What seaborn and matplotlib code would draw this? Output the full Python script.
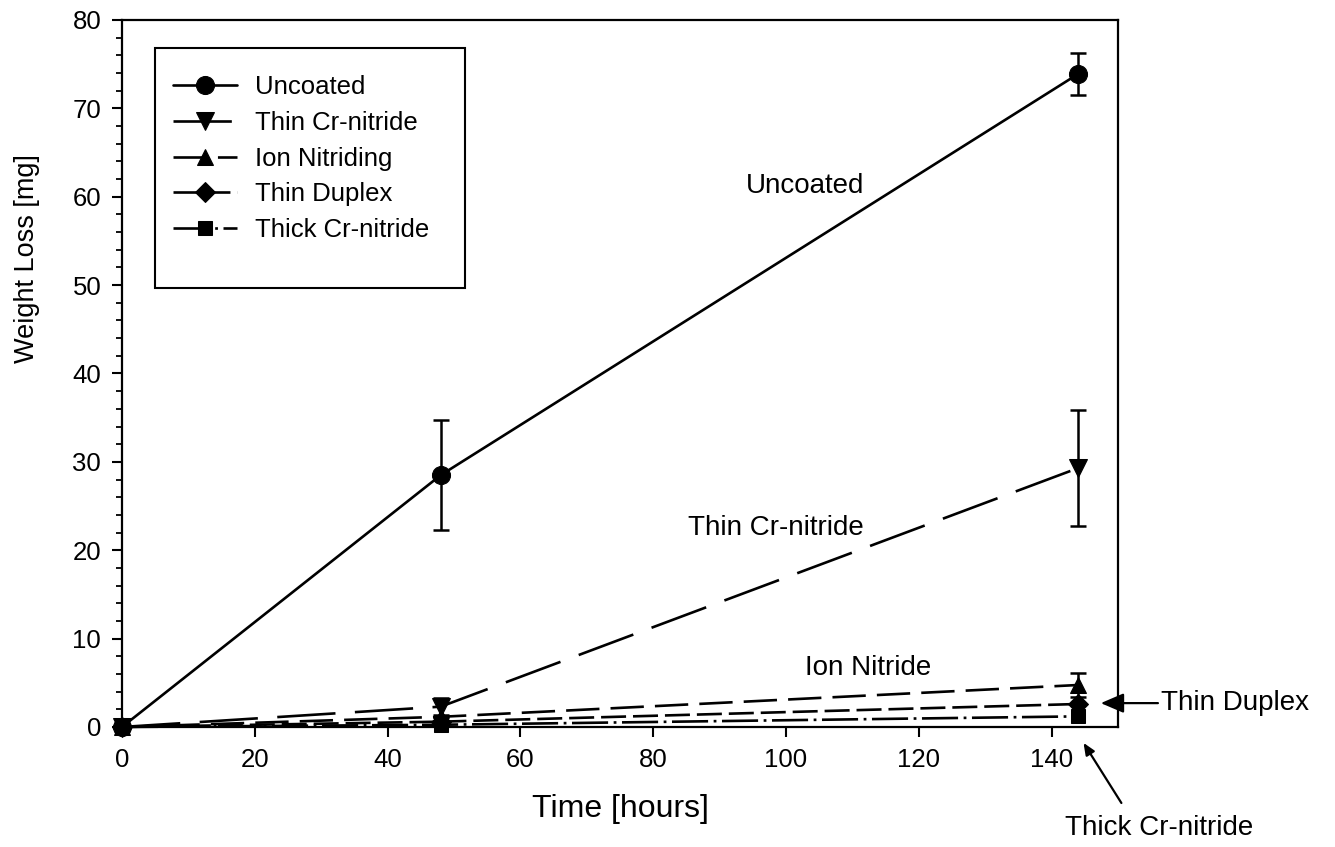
import matplotlib
matplotlib.use("Agg")
import matplotlib.pyplot as plt
from matplotlib.ticker import MultipleLocator
from matplotlib.patches import Rectangle
import seaborn as sns
import pandas as pd

# Weight loss measurements (mg) after 0, 48 and 144 hours
hours = [0, 48, 144]
uncoated = [0.0, 28.5, 73.9]
uncoated_err = [0.0, 6.2, 2.35]
thin_crn = [0.0, 2.3, 29.3]
thin_crn_err = [0.0, 1.0, 6.6]
ion_nitriding = [0.0, 1.15, 4.75]
ion_nitriding_err = [0.0, 0.0, 1.35]
thin_duplex = [0.0, 0.6, 2.6]
thick_crn = [0.0, 0.25, 1.2]

series_names = ["Uncoated", "Thin Cr-nitride", "Ion Nitriding", "Thin Duplex", "Thick Cr-nitride"]

sns.set_style("ticks")
plt.rcParams["font.family"] = ["Liberation Sans", "DejaVu Sans"]
plt.rcParams["lines.scale_dashes"] = False
for key in ("text.color", "axes.labelcolor", "xtick.color", "ytick.color", "axes.edgecolor"):
    plt.rcParams[key] = "black"

fig = plt.figure(figsize=(13.35, 8.47), dpi=100)
ax = fig.add_axes([0.0914, 0.1417, 0.7461, 0.8347])

styles = {
    "Uncoated": dict(marker="o", ms=13, ls="-"),
    "Thin Cr-nitride": dict(marker="v", ms=13, ls=(0, (42, 14))),
    "Ion Nitriding": dict(marker="^", ms=12, ls=(0, (24, 8))),
    "Thin Duplex": dict(marker="D", ms=10, ls=(0, (18, 5))),
    "Thick Cr-nitride": dict(marker="s", ms=10, ls=(0, (26, 4, 2, 4))),
}
values = {
    "Uncoated": uncoated,
    "Thin Cr-nitride": thin_crn,
    "Ion Nitriding": ion_nitriding,
    "Thin Duplex": thin_duplex,
    "Thick Cr-nitride": thick_crn,
}
errors = {
    "Uncoated": uncoated_err,
    "Thin Cr-nitride": thin_crn_err,
    "Ion Nitriding": ion_nitriding_err,
}

for name in series_names:
    df = pd.DataFrame({"Time": hours, "Loss": values[name]})
    st = styles[name]
    sns.lineplot(data=df, x="Time", y="Loss", ax=ax, color="black",
                 marker=st["marker"], markersize=st["ms"], linestyle=st["ls"],
                 linewidth=1.9, markeredgecolor="black", label=name,
                 clip_on=False, zorder=3)

for name, err in errors.items():
    ax.errorbar(hours, values[name], yerr=err, fmt="none", ecolor="black",
                elinewidth=1.8, capsize=6, capthick=1.8, zorder=2)

ax.set_xlim(0, 150)
ax.set_ylim(0, 80)
ax.yaxis.set_major_locator(MultipleLocator(10))
ax.yaxis.set_minor_locator(MultipleLocator(2))
ax.set_xticks([0, 20, 40, 60, 80, 100, 120, 140])

for sp in ax.spines.values():
    sp.set_linewidth(1.6)
ax.tick_params(axis="both", which="major", direction="out", length=7, width=1.5,
               labelsize=18.5, pad=8)
ax.tick_params(axis="y", which="minor", direction="out", length=4, width=1.3)

ax.set_xlabel("Time [hours]", fontsize=23, labelpad=16)
ax.set_ylabel("Weight Loss [mg]", fontsize=19.5)
ax.yaxis.set_label_coords(-0.082, 0.663)

leg = ax.legend(loc="upper left", bbox_to_anchor=(0.1104, 0.9413),
                bbox_transform=fig.transFigure, borderaxespad=0, fontsize=18.5,
                frameon=False, handlelength=2.5, handletextpad=0.7,
                labelspacing=0.45, borderpad=1.0)
# Legend frame, taller than the entries with extra room below
fig.patches.append(Rectangle((155 / 1335, 1 - 288 / 847), 310 / 1335, 240 / 847,
                             transform=fig.transFigure, fill=False,
                             edgecolor="black", linewidth=1.5))

# Curve labels
txt = dict(fontsize=20, ha="center", va="center")
ax.text(102.9, 61.2, "Uncoated", **txt)
ax.text(98.4, 22.5, "Thin Cr-nitride", **txt)
ax.text(112.4, 6.7, "Ion Nitride", **txt)

arrow = dict(arrowstyle="-|>,head_length=0.7,head_width=0.3", color="black",
             lw=1.6, shrinkA=0, shrinkB=0)
ax.annotate("Thin Duplex", xy=(147.4, 2.7), xytext=(156.5, 2.7),
            fontsize=20, ha="left", va="center", arrowprops=arrow,
            annotation_clip=False)
ax.annotate("", xy=(144.8, -1.8), xytext=(150.5, -8.6),
            arrowprops=arrow, annotation_clip=False)
ax.text(156.2, -11.4, "Thick Cr-nitride", fontsize=20, ha="center", va="center",
        clip_on=False)

fig.savefig("out.png", dpi=100)
